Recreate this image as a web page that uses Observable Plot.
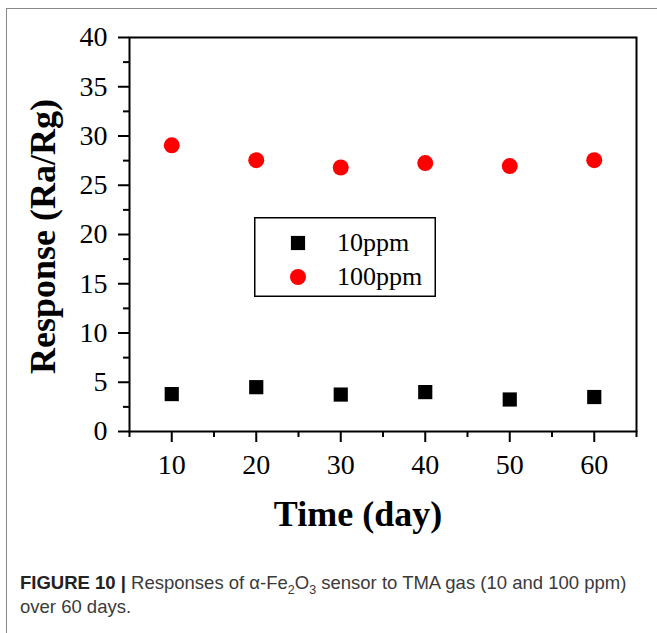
<!DOCTYPE html>
<html>
<head>
<meta charset="utf-8">
<script src="https://cdn.jsdelivr.net/npm/d3@7"></script>
<script src="https://cdn.jsdelivr.net/npm/@observablehq/plot@0.6"></script>
<style>
  html, body { margin: 0; padding: 0; background: #fff; }
  #wrap { position: relative; width: 657px; height: 633px; overflow: hidden; }
  #border { position: absolute; left: 6px; top: 8px; width: 800px; height: 800px; border-left: 1px solid #8a8a8a; border-top: 1px solid #8a8a8a; }
  #chart { position: absolute; left: 0; top: 0; }
  #legend { position: absolute; left: 254px; top: 217px; }
  #caption { position: absolute; left: 20px; top: 571px; width: 635px; font-family: "Liberation Sans", Arial, sans-serif; font-size: 18.5px; line-height: 24px; color: #3a3a3a; white-space: nowrap; }
  #caption b { color: #222; }
  #caption sub { font-size: 12.5px; line-height: 0; }
</style>
</head>
<body>
<div id="wrap">
  <div id="border"></div>
  <div id="chart"></div>
  <div id="legend"></div>
  <div id="caption"><b>FIGURE 10 |</b> Responses of α-Fe<sub>2</sub>O<sub>3</sub> sensor to TMA gas (10 and 100 ppm)<br>over 60 days.</div>
</div>
<script>
// ---- data ----
const days = [10, 20, 30, 40, 50, 60];
const resp10ppm = [3.8, 4.5, 3.75, 4.0, 3.25, 3.5];
const resp100ppm = [29.05, 27.55, 26.8, 27.25, 26.95, 27.55];
const seriesNames = ["10ppm", "100ppm"];
const seriesColors = ["#000000", "#ff0000"];
const seriesSymbols = ["square", "circle"];
const xMajorTicks = [10, 20, 30, 40, 50, 60];
const xMinorTicks = [5, 15, 25, 35, 45, 55, 65];
const yMajorTicks = [0, 5, 10, 15, 20, 25, 30, 35, 40];
const yMinorTicks = [2.5, 7.5, 12.5, 17.5, 22.5, 27.5, 32.5, 37.5];
const xTitle = "Time (day)";
const yTitle = "Response (Ra/Rg)";

const data10 = days.map((d, i) => ({day: d, value: resp10ppm[i]}));
const data100 = days.map((d, i) => ({day: d, value: resp100ppm[i]}));

const chart = Plot.plot({
  width: 657,
  height: 545,
  marginLeft: 129,
  marginRight: 21,
  marginTop: 37,
  marginBottom: 114,
  style: { fontFamily: "'Liberation Serif', 'Times New Roman', serif", background: "transparent", color: "black" },
  x: { domain: [5, 65] },
  y: { domain: [0, 40] },
  marks: [
    Plot.axisY(yMajorTicks, { tickSize: 11, tickPadding: 11, fontSize: 28, strokeWidth: 2, label: null }),
    Plot.axisY(yMinorTicks, { tickSize: 6, text: null, strokeWidth: 2, label: null }),
    Plot.axisX(xMajorTicks, { tickSize: 11, tickPadding: 12, fontSize: 28, strokeWidth: 2, label: null }),
    Plot.axisX(xMinorTicks, { tickSize: 6, text: null, strokeWidth: 2, label: null }),
    Plot.frame({ stroke: "black", strokeWidth: 2 }),
    Plot.dot(data10, { x: "day", y: "value", symbol: seriesSymbols[0], r: 8, fill: seriesColors[0], stroke: "none" }),
    Plot.dot(data100, { x: "day", y: "value", symbol: seriesSymbols[1], r: 8, fill: seriesColors[1], stroke: "none" }),
    Plot.text([xTitle], { frameAnchor: "bottom", dx: -25, dy: 83, fontSize: 36, fontWeight: "bold", lineAnchor: "middle", textAnchor: "middle", fill: "black" }),
    Plot.text([yTitle], { frameAnchor: "left", dx: -86, dy: 2, rotate: -90, fontSize: 36, fontWeight: "bold", lineAnchor: "middle", textAnchor: "middle", fill: "black" })
  ]
});
document.getElementById("chart").appendChild(chart);

// ---- legend ----
const lw = 182, lh = 80;
const leg = d3.select("#legend").append("svg").attr("width", lw).attr("height", lh)
  .style("font-family", "'Liberation Serif', 'Times New Roman', serif");
leg.append("rect").attr("x", 0.75).attr("y", 0.75).attr("width", lw - 1.5).attr("height", lh - 1.5)
  .attr("fill", "white").attr("stroke", "black").attr("stroke-width", 1.5);
seriesNames.forEach((name, i) => {
  const cy = 26 + i * 34;
  const sym = d3.symbol(seriesSymbols[i] === "square" ? d3.symbolSquare : d3.symbolCircle, Math.PI * 64);
  leg.append("path").attr("d", sym()).attr("transform", `translate(44,${cy})`).attr("fill", seriesColors[i]);
  leg.append("text").attr("x", 83).attr("y", cy + 8).attr("font-size", 26).attr("fill", "black").text(name);
});
</script>
</body>
</html>
